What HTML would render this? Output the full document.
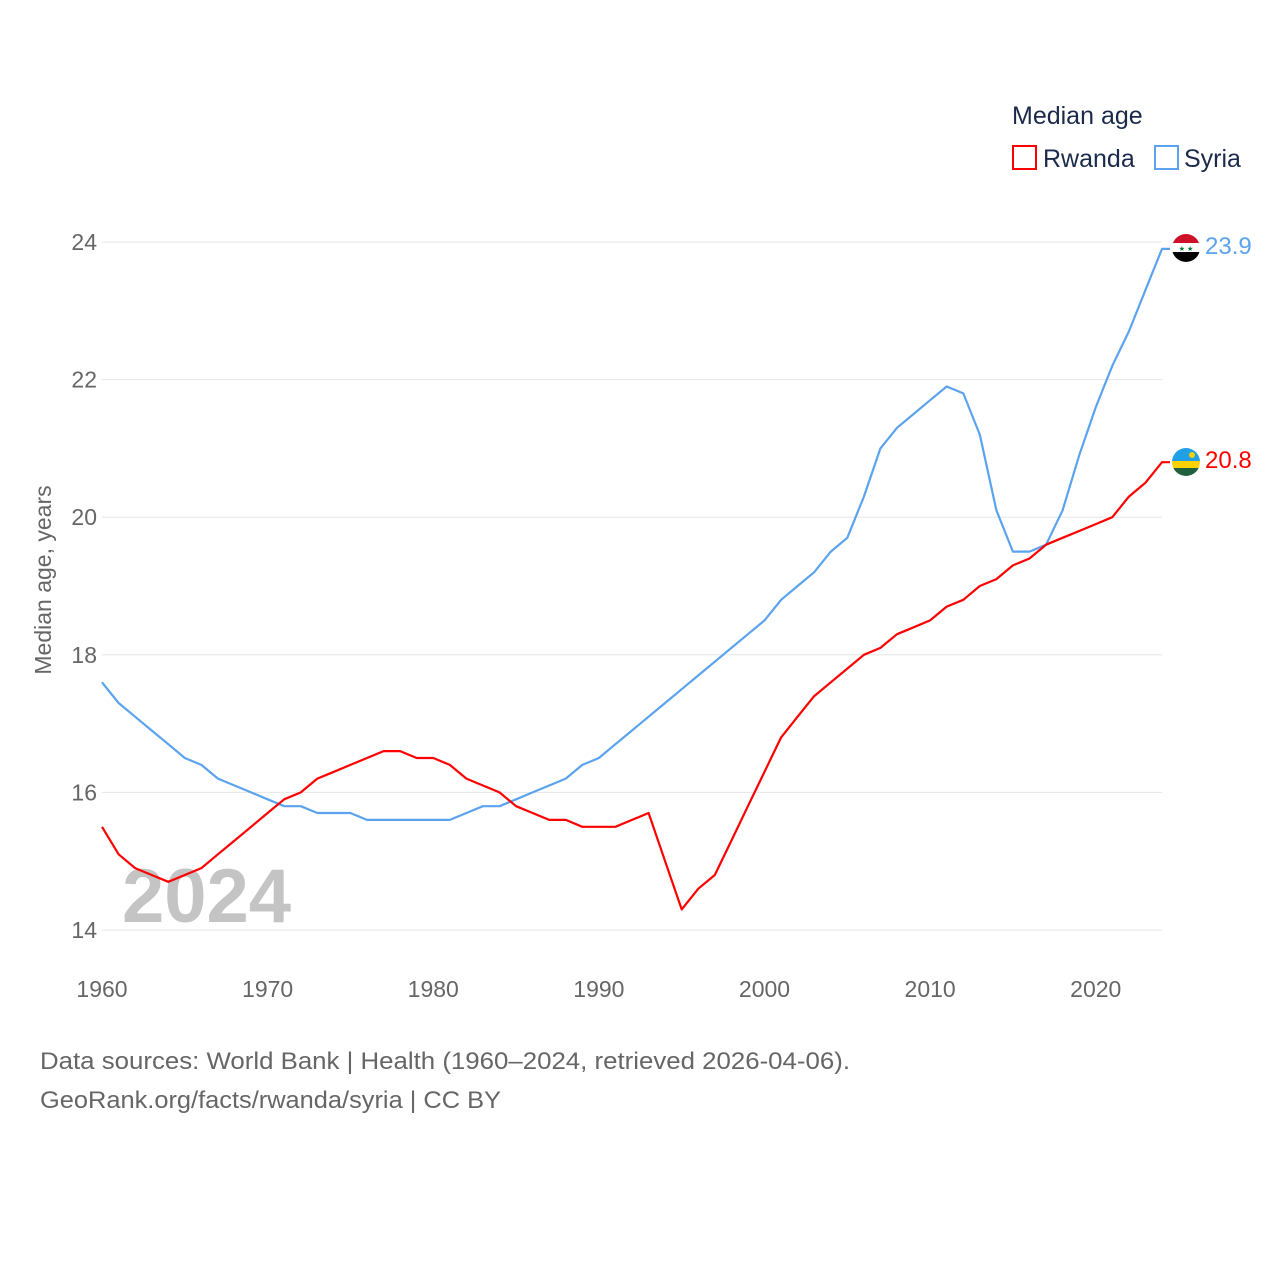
<!DOCTYPE html>
<html><head><meta charset="utf-8">
<style>
html,body{margin:0;padding:0;background:#fff;}
body{width:1280px;height:1280px;overflow:hidden;font-family:"Liberation Sans",sans-serif;}
svg text{font-family:"Liberation Sans",sans-serif;}
</style></head>
<body>
<svg id="chart" width="1280" height="1280" viewBox="0 0 1280 1280" xmlns="http://www.w3.org/2000/svg">
<g id="grid"></g>
<g id="yticks"></g>
<g id="xticks"></g>
<text x="122" y="922" font-size="76" font-weight="bold" fill="#c4c4c4">2024</text>
<text transform="translate(51,580) rotate(-90)" text-anchor="middle" font-size="23" fill="#666">Median age, years</text>
<g id="series"></g>
<g>
<text x="1012" y="124" font-size="25" fill="#1a2a4a">Median age</text>
<g><rect x="1013" y="146" width="23" height="23" fill="none" stroke="#ff0000" stroke-width="2"/><text x="1043" y="167" font-size="25" fill="#1a2a4a">Rwanda</text></g>
<g><rect x="1155" y="146" width="23" height="23" fill="none" stroke="#5ba3ee" stroke-width="2"/><text x="1184" y="167" font-size="25" fill="#1a2a4a">Syria</text></g>
</g>
<g>
<clipPath id="cs"><circle cx="1186" cy="248" r="14"/></clipPath>
<g clip-path="url(#cs)"><rect x="1172" y="234" width="28" height="10" fill="#ce1126"/><rect x="1172" y="243" width="28" height="10" fill="#fff"/><rect x="1172" y="252" width="28" height="10" fill="#000"/></g>
<text x="1186" y="251" font-size="7" text-anchor="middle" fill="#007a3d">★ ★</text>
</g>
<g>
<clipPath id="cr"><circle cx="1186" cy="462" r="14"/></clipPath>
<g clip-path="url(#cr)"><rect x="1172" y="448" width="28" height="14" fill="#20a0e6"/><rect x="1172" y="461" width="28" height="7" fill="#fad201"/><rect x="1172" y="468" width="28" height="8" fill="#20603d"/></g>
<circle cx="1192" cy="455" r="3" fill="#fad201"/>
</g>
<text x="1205" y="254" font-size="24" fill="#5ba3ee">23.9</text>
<text x="1205" y="468" font-size="24" fill="#ff0000">20.8</text>
<text x="40" y="1069" font-size="24" fill="#666" textLength="810" lengthAdjust="spacingAndGlyphs">Data sources: World Bank | Health (1960–2024, retrieved 2026-04-06).</text>
<text x="40" y="1108" font-size="24" fill="#666" textLength="461" lengthAdjust="spacingAndGlyphs">GeoRank.org/facts/rwanda/syria | CC BY</text>
</svg>
<script>
const years = [];
for (let y = 1960; y <= 2024; y++) years.push(y);
const syria = [17.6,17.3,17.1,16.9,16.7,16.5,16.4,16.2,16.1,16.0,15.9,15.8,15.8,15.7,15.7,15.7,15.6,15.6,15.6,15.6,15.6,15.6,15.7,15.8,15.8,15.9,16.0,16.1,16.2,16.4,16.5,16.7,16.9,17.1,17.3,17.5,17.7,17.9,18.1,18.3,18.5,18.8,19.0,19.2,19.5,19.7,20.3,21.0,21.3,21.5,21.7,21.9,21.8,21.2,20.1,19.5,19.5,19.6,20.1,20.9,21.6,22.2,22.7,23.3,23.9];
const rwanda = [15.5,15.1,14.9,14.8,14.7,14.8,14.9,15.1,15.3,15.5,15.7,15.9,16.0,16.2,16.3,16.4,16.5,16.6,16.6,16.5,16.5,16.4,16.2,16.1,16.0,15.8,15.7,15.6,15.6,15.5,15.5,15.5,15.6,15.7,15.0,14.3,14.6,14.8,15.3,15.8,16.3,16.8,17.1,17.4,17.6,17.8,18.0,18.1,18.3,18.4,18.5,18.7,18.8,19.0,19.1,19.3,19.4,19.6,19.7,19.8,19.9,20.0,20.3,20.5,20.8];
const yTickValues = [14,16,18,20,22,24];
const xTickValues = [1960,1970,1980,1990,2000,2010,2020];

const X = v => 102 + (v - 1960) * (1162 - 102) / 64;
const Y = v => 930 - (v - 14) * (930 - 242) / 10;
const NS = "http://www.w3.org/2000/svg";
function mk(tag, attrs, parent) { const e = document.createElementNS(NS, tag); for (const k in attrs) e.setAttribute(k, attrs[k]); parent.appendChild(e); return e; }

const grid = document.getElementById('grid'), yt = document.getElementById('yticks'), xt = document.getElementById('xticks'), series = document.getElementById('series');
yTickValues.forEach(v => {
  const l = mk('line', {x1: 102, x2: 1162, y1: Y(v), y2: Y(v), stroke: '#e6e6e6', 'stroke-width': 1}, grid);
  
  
  const t = mk('text', {x: 97, y: Y(v) + 8, 'text-anchor': 'end', 'font-size': 23, fill: '#666'}, yt);
  t.textContent = v;
  
  
});
xTickValues.forEach(v => {
  const t = mk('text', {x: X(v), y: 997, 'text-anchor': 'middle', 'font-size': 23, fill: '#666'}, xt);
  t.textContent = v;
  
  
});
function line(vals, color, name) {
  let d = vals.map((v, i) => (i ? 'L' : 'M') + X(years[i]).toFixed(1) + ',' + Y(v).toFixed(1)).join(' ');
  d += ' L' + (X(years[years.length - 1]) + 8) + ',' + Y(vals[vals.length - 1]).toFixed(1);
  const p = mk('path', {d: d, fill: 'none', stroke: color, 'stroke-width': 2.2, 'stroke-linejoin': 'round'}, series);
  
  
}
line(syria, '#5ba3ee', 'syria-line');
line(rwanda, '#ff0000', 'rwanda-line');
</script>
</body></html>
